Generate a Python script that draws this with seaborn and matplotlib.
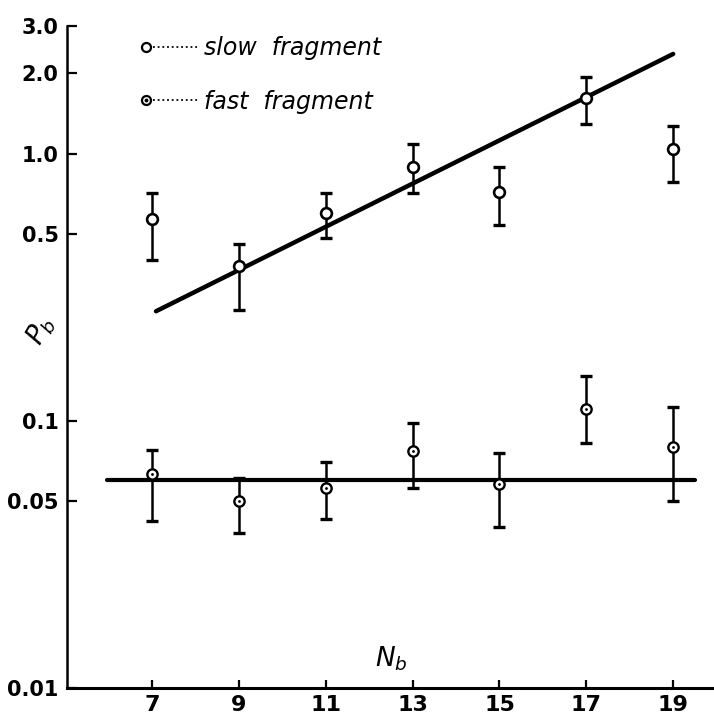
import matplotlib
matplotlib.use("Agg")
import matplotlib.pyplot as plt
import seaborn as sns
import numpy as np
import pandas as pd
from matplotlib.lines import Line2D
from matplotlib.legend_handler import HandlerBase
from matplotlib.ticker import FixedLocator, FixedFormatter, NullLocator

# ---- data ----
Nb = [7, 9, 11, 13, 15, 17, 19]
slow_P = [0.57, 0.38, 0.60, 0.89, 0.72, 1.62, 1.04]
slow_hi = [0.71, 0.46, 0.71, 1.09, 0.89, 1.93, 1.27]
slow_lo = [0.40, 0.26, 0.485, 0.71, 0.54, 1.29, 0.78]
fast_P = [0.063, 0.050, 0.056, 0.077, 0.058, 0.111, 0.080]
fast_hi = [0.078, 0.061, 0.070, 0.098, 0.076, 0.147, 0.113]
fast_lo = [0.042, 0.038, 0.043, 0.056, 0.040, 0.0825, 0.050]
slow_fit_x = [7.09, 19.0]
slow_fit_y = [0.257, 2.36]
fast_fit_x = [5.96, 19.5]
fast_fit_y = [0.060, 0.060]
x_ticks = [7, 9, 11, 13, 15, 17, 19]
y_ticks = [0.01, 0.05, 0.1, 0.5, 1.0, 2.0, 3.0]
y_tick_labels = ["0.01", "0.05", "0.1", "0.5", "1.0", "2.0", "3.0"]
series_labels = ["slow  fragment", "fast  fragment"]

sns.set_style("ticks")
plt.rcParams['font.family'] = ['DejaVu Sans']
plt.rcParams['text.color'] = 'black'
plt.rcParams['axes.labelcolor'] = 'black'
plt.rcParams['axes.edgecolor'] = 'black'

fig = plt.figure(figsize=(7.14, 7.21), dpi=100)
ax = fig.add_axes([0.0938, 0.0458, 0.9062, 0.918])

df_slow = pd.DataFrame({"Nb": Nb, "P": slow_P})
df_fast = pd.DataFrame({"Nb": Nb, "P": fast_P})

# fit lines
sns.lineplot(x=slow_fit_x, y=slow_fit_y, ax=ax, color="black", lw=3.2, zorder=2)
sns.lineplot(x=fast_fit_x, y=fast_fit_y, ax=ax, color="black", lw=3.0, zorder=2)

# error bars
s_err = [np.array(slow_P) - np.array(slow_lo), np.array(slow_hi) - np.array(slow_P)]
f_err = [np.array(fast_P) - np.array(fast_lo), np.array(fast_hi) - np.array(fast_P)]
ax.errorbar(Nb, slow_P, yerr=s_err, fmt="none", ecolor="black", elinewidth=1.8,
            capsize=4.5, capthick=2.4, zorder=3)
ax.errorbar(Nb, fast_P, yerr=f_err, fmt="none", ecolor="black", elinewidth=1.8,
            capsize=4.5, capthick=2.4, zorder=3)

# markers
sns.scatterplot(data=df_slow, x="Nb", y="P", ax=ax, marker="o", s=60,
                facecolor="white", edgecolor="black", linewidth=1.9, zorder=4)
sns.scatterplot(data=df_fast, x="Nb", y="P", ax=ax, marker="o", s=55,
                facecolor="white", edgecolor="black", linewidth=1.7, zorder=4)
sns.scatterplot(data=df_fast, x="Nb", y="P", ax=ax, marker="o", s=4,
                color="black", linewidth=0, zorder=5)

ax.set_yscale("log")
ax.set_ylim(0.01, 3.0)
ax.set_xlim(5.04, 19.94)
ax.yaxis.set_major_locator(FixedLocator(y_ticks))
ax.yaxis.set_major_formatter(FixedFormatter(y_tick_labels))
ax.yaxis.set_minor_locator(NullLocator())
ax.set_xticks(x_ticks)
ax.set_xticklabels([str(v) for v in x_ticks])

for s in ["top", "right"]:
    ax.spines[s].set_visible(False)
ax.spines["left"].set_linewidth(1.8)
ax.spines["bottom"].set_linewidth(2.2)
ax.tick_params(axis="y", direction="in", length=7, width=1.6, pad=6,
               labelsize=15, colors="black")
ax.tick_params(axis="x", direction="in", length=6, width=1.6, pad=5,
               labelsize=16, colors="black")
for lab in ax.get_xticklabels() + ax.get_yticklabels():
    lab.set_fontweight("bold")

ax.set_xlabel("$N_b$", fontsize=19, color="black")
ax.xaxis.set_label_coords(0.502, 0.065)
ax.set_ylabel("$P_b$", fontsize=19, rotation=60, ha="center", va="center",
              color="black")
ax.yaxis.set_label_coords(-0.04, 0.54)


class MarkerFirstHandler(HandlerBase):
    def create_artists(self, legend, orig_handle, xdescent, ydescent, width,
                       height, fontsize, trans):
        y = height / 2 - ydescent
        x0 = -xdescent
        arts = []
        dots = Line2D([x0 + 0.2 * width, x0 + width], [y, y], color="black",
                      lw=1.3, linestyle=(0, (1, 1.6)))
        arts.append(dots)
        mk = Line2D([x0 + 0.07 * width], [y], marker="o", markersize=6.5,
                    markerfacecolor="white", markeredgecolor="black",
                    markeredgewidth=1.6, linestyle="none")
        arts.append(mk)
        if orig_handle.get_label() == "dot":
            dot = Line2D([x0 + 0.07 * width], [y], marker="o", markersize=1.8,
                         markerfacecolor="black", markeredgecolor="black",
                         linestyle="none")
            arts.append(dot)
        for a in arts:
            a.set_transform(trans)
        return arts


h_slow = Line2D([], [], label="plain")
h_fast = Line2D([], [], label="dot")
leg = ax.legend([h_slow, h_fast], series_labels,
                handler_map={Line2D: MarkerFirstHandler()},
                loc="upper left", bbox_to_anchor=(0.115, 0.985),
                frameon=False, borderaxespad=0, borderpad=0,
                handlelength=2.5, handletextpad=0.15, labelspacing=1.25,
                prop={"style": "italic", "size": 17})
for t in leg.get_texts():
    t.set_color("black")

fig.savefig("out.png", dpi=100)
